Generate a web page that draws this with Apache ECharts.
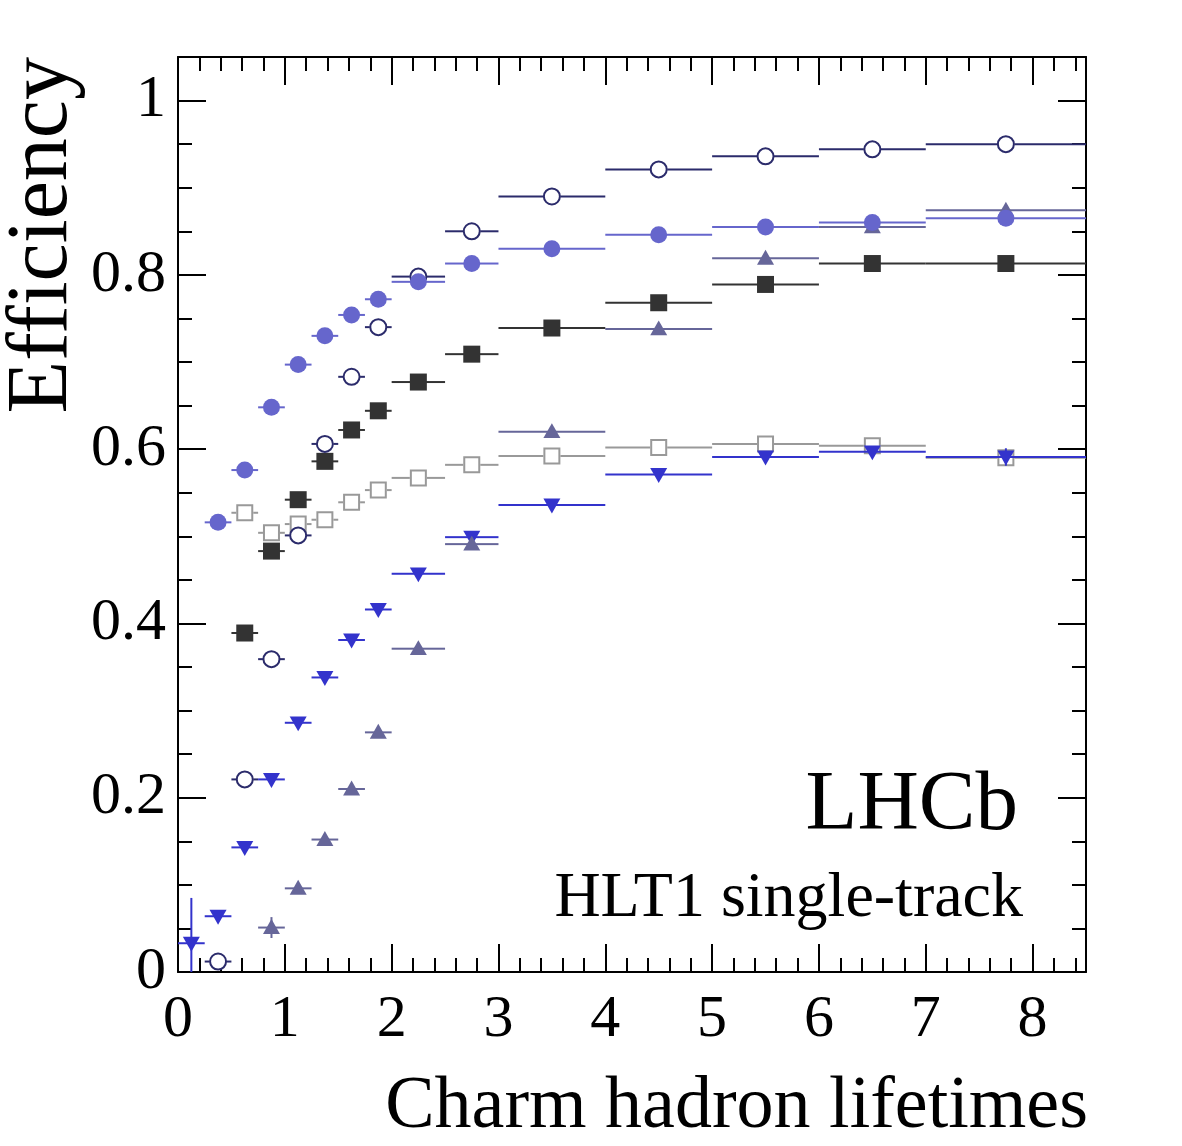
<!DOCTYPE html>
<html>
<head>
<meta charset="utf-8">
<script src="https://cdn.jsdelivr.net/npm/echarts@6/dist/echarts.min.js"></script>
<style>
  html, body { margin: 0; padding: 0; background: #fff; }
  #chart { width: 1182px; height: 1146px; }
</style>
</head>
<body>
<div id="chart"></div>
<script>
// ---- Data ----
const binLow  = [0, 0.25, 0.5, 0.75, 1.0, 1.25, 1.5, 1.75, 2.0, 2.5, 3, 4, 5, 6, 7];
const binHigh = [0.25, 0.5, 0.75, 1.0, 1.25, 1.5, 1.75, 2.0, 2.5, 3, 4, 5, 6, 7, 8.5];

const effOpenCircle   = [null, 0.012, 0.221, 0.359, 0.501, 0.606, 0.683, 0.740, 0.798, 0.850, 0.890, 0.921, 0.936, 0.944, 0.950];
const effFilledCircle = [null, 0.516, 0.576, 0.648, 0.697, 0.730, 0.754, 0.772, 0.792, 0.813, 0.830, 0.846, 0.855, 0.860, 0.865];
const effFilledSquare = [null, null, 0.389, 0.483, 0.542, 0.586, 0.622, 0.644, 0.677, 0.709, 0.739, 0.768, 0.789, 0.813, 0.813];
const effOpenSquare   = [null, null, 0.527, 0.504, 0.514, 0.519, 0.539, 0.553, 0.567, 0.582, 0.592, 0.602, 0.606, 0.604, 0.590];
const effDownTri      = [0.033, 0.064, 0.143, 0.221, 0.286, 0.338, 0.381, 0.416, 0.457, 0.499, 0.536, 0.571, 0.591, 0.597, 0.591];
const effUpTri        = [null, null, null, 0.051, 0.096, 0.152, 0.210, 0.275, 0.371, 0.491, 0.620, 0.738, 0.819, 0.855, 0.874];

// vertical (statistical) uncertainties, mostly too small to see
const errDownTri = [0.052, 0, 0, 0, 0, 0, 0, 0, 0, 0, 0, 0, 0, 0, 0.010];
const errUpTri   = [0, 0, 0, 0.012, 0, 0, 0, 0, 0, 0, 0, 0, 0, 0, 0];

const xTickLabels = ['0', '1', '2', '3', '4', '5', '6', '7', '8'];
const yTickLabels = ['0', '0.2', '0.4', '0.6', '0.8', '1'];

const xTitle = 'Charm hadron lifetimes';
const yTitle = 'Efficiency';
const labelMain = 'LHCb';
const labelSub = 'HLT1 single-track';

// ---- Styling ----
const FONT = '"Liberation Serif", "Times New Roman", serif';
const MARK = 8.5;

function buildData(vals, errs) {
  const out = [];
  vals.forEach((v, i) => {
    if (v === null || v === undefined) return;
    out.push([binLow[i], binHigh[i], v, errs ? errs[i] : 0]);
  });
  return out;
}

function markerShape(kind, cx, cy, color) {
  const r = MARK;
  switch (kind) {
    case 'openCircle':
      return { type: 'circle', shape: { cx, cy, r: r - 0.5 }, style: { fill: '#fff', stroke: color, lineWidth: 2 } };
    case 'filledCircle':
      return { type: 'circle', shape: { cx, cy, r }, style: { fill: color } };
    case 'filledSquare':
      return { type: 'rect', shape: { x: cx - r, y: cy - r, width: 2 * r, height: 2 * r }, style: { fill: color } };
    case 'openSquare':
      return { type: 'rect', shape: { x: cx - r + 1, y: cy - r + 1, width: 2 * r - 2, height: 2 * r - 2 }, style: { fill: 'none', stroke: color, lineWidth: 2 } };
    case 'downTri':
      return { type: 'polygon', shape: { points: [[cx - r, cy - r * 0.75], [cx + r, cy - r * 0.75], [cx, cy + r * 1.0]] }, style: { fill: color } };
    case 'upTri':
      return { type: 'polygon', shape: { points: [[cx - r, cy + r * 0.75], [cx + r, cy + r * 0.75], [cx, cy - r * 1.0]] }, style: { fill: color } };
  }
}

function makeSeries(name, vals, errs, kind, color) {
  return {
    type: 'custom',
    name,
    xAxisIndex: 0,
    yAxisIndex: 0,
    data: buildData(vals, errs),
    encode: { x: [0, 1], y: 2 },
    renderItem(params, api) {
      const x0 = api.value(0), x1 = api.value(1), y = api.value(2), e = api.value(3);
      const xc = (x0 + x1) / 2;
      const pL = api.coord([x0, y]);
      const pR = api.coord([x1, y]);
      const pC = api.coord([xc, y]);
      const cs = params.coordSys;
      const yBottom = cs.y + cs.height, yTop = cs.y;
      const gap = (kind === 'openCircle' || kind === 'openSquare') ? MARK : 0;
      const ls = { stroke: color, lineWidth: 2 };
      const children = [];
      if (pC[0] - gap > pL[0]) children.push({ type: 'line', shape: { x1: pL[0], y1: pC[1], x2: pC[0] - gap, y2: pC[1] }, style: ls });
      if (pR[0] > pC[0] + gap) children.push({ type: 'line', shape: { x1: pC[0] + gap, y1: pC[1], x2: Math.min(pR[0], cs.x + cs.width), y2: pC[1] }, style: ls });
      if (e > 0) {
        const pT = api.coord([xc, y + e]);
        const pB = api.coord([xc, y - e]);
        const top = Math.max(pT[1], yTop), bot = Math.min(pB[1], yBottom);
        children.push({ type: 'line', shape: { x1: pC[0], y1: top, x2: pC[0], y2: bot }, style: ls });
      }
      children.push(markerShape(kind, pC[0], pC[1], color));
      return { type: 'group', children };
    }
  };
}

const tickStyle = { color: '#000', width: 2 };
function majorX(pos, showLabel) {
  return {
    type: 'value', position: pos, min: 0, max: 8.5, interval: 1,
    axisLine: { show: true, onZero: false, lineStyle: { color: '#000', width: 2 } },
    axisTick: { show: true, inside: true, length: 28, lineStyle: tickStyle },
    axisLabel: {
      show: showLabel, margin: 18, color: '#000', fontFamily: FONT, fontSize: 60,
      formatter: (v) => { const i = Math.round(v); return Math.abs(v - i) < 1e-6 && xTickLabels[i] !== undefined ? xTickLabels[i] : ''; }
    },
    splitLine: { show: false }
  };
}
function minorX(pos) {
  return {
    type: 'value', position: pos, min: 0, max: 8.5, interval: 0.2,
    axisLine: { show: false, onZero: false },
    axisTick: { show: true, inside: true, length: 14, lineStyle: tickStyle },
    axisLabel: { show: false }, splitLine: { show: false }
  };
}
function majorY(pos, showLabel) {
  return {
    type: 'value', position: pos, min: 0, max: 1.05, interval: 0.2,
    axisLine: { show: true, onZero: false, lineStyle: { color: '#000', width: 2 } },
    axisTick: { show: true, inside: true, length: 28, lineStyle: tickStyle },
    axisLabel: {
      show: showLabel, margin: 12, color: '#000', fontFamily: FONT, fontSize: 60,
      formatter: (v) => { const i = Math.round(v * 5); return Math.abs(v * 5 - i) < 1e-6 && yTickLabels[i] !== undefined ? yTickLabels[i] : ''; }
    },
    splitLine: { show: false }
  };
}
function minorY(pos) {
  return {
    type: 'value', position: pos, min: 0, max: 1.05, interval: 0.05,
    axisLine: { show: false, onZero: false },
    axisTick: { show: true, inside: true, length: 14, lineStyle: tickStyle },
    axisLabel: { show: false }, splitLine: { show: false }
  };
}

const chart = echarts.init(document.getElementById('chart'), null, { renderer: 'canvas' });
chart.setOption({
  backgroundColor: '#fff',
  animation: false,
  grid: { left: 178, right: 96, top: 57, bottom: 174, containLabel: false },
  xAxis: [majorX('bottom', true), minorX('bottom'), majorX('top', false), minorX('top')],
  yAxis: [majorY('left', true), minorY('left'), majorY('right', false), minorY('right')],
  series: [
    makeSeries('open square', effOpenSquare, null, 'openSquare', '#999999'),
    makeSeries('down triangle', effDownTri, errDownTri, 'downTri', '#3333cc'),
    makeSeries('up triangle', effUpTri, errUpTri, 'upTri', '#666699'),
    makeSeries('filled square', effFilledSquare, null, 'filledSquare', '#333333'),
    makeSeries('open circle', effOpenCircle, null, 'openCircle', '#2b2b6b'),
    makeSeries('filled circle', effFilledCircle, null, 'filledCircle', '#6666cc')
  ],
  graphic: [
    { type: 'text', x: 1088, y: 1108, style: { text: xTitle, font: '74px ' + FONT, fill: '#000', align: 'right', verticalAlign: 'middle' } },
    { type: 'text', x: 43, y: 57, rotation: Math.PI / 2,
      style: { text: yTitle, font: '86px ' + FONT, fill: '#000', align: 'right', verticalAlign: 'middle' } },
    { type: 'text', x: 1018, y: 807, style: { text: labelMain, font: '85px ' + FONT, fill: '#000', align: 'right', verticalAlign: 'middle' } },
    { type: 'text', x: 1023, y: 899, style: { text: labelSub, font: '64px ' + FONT, fill: '#000', align: 'right', verticalAlign: 'middle' } }
  ]
});
</script>
</body>
</html>
